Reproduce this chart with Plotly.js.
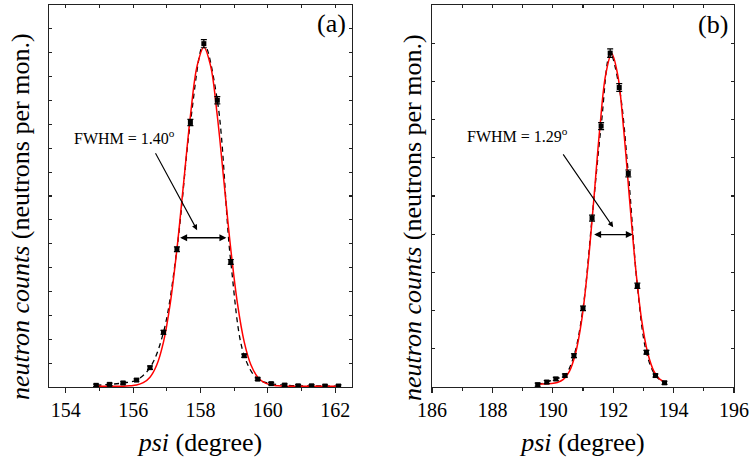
<!DOCTYPE html>
<html>
<head>
<meta charset="utf-8">
<script src="https://cdn.plot.ly/plotly-3.0.1.min.js"></script>
<style>html,body{margin:0;padding:0;background:#fff}#chart{width:750px;height:462px}</style>
</head>
<body>
<div id="chart"></div>
<script>
// Panel (a) measured points
const psiA = [154.9,155.3,155.7,156.1,156.5,156.9,157.3,157.7,158.1,158.5,158.9,159.3,159.7,160.1,160.5,160.9,161.3,161.7,162.1];
const cntA = [0.07,0.11,0.17,0.29,0.81,2.29,5.77,11.08,14.38,12.01,5.24,1.31,0.33,0.14,0.08,0.05,0.05,0.04,0.04];
const errA = [0.05,0.05,0.05,0.05,0.07,0.08,0.10,0.13,0.17,0.15,0.10,0.07,0.05,0.05,0.05,0.05,0.05,0.05,0.05];
// Panel (a) fitted curve
const fitAx = [154.9,155.1,155.3,155.5,155.7,155.9,156.1,156.3,156.5,156.7,156.9,157.1,157.3,157.5,157.7,157.9,158.1,158.3,158.5,158.7,158.9,159.1,159.3,159.5,159.7,159.9,160.1,160.3,160.5,160.7,160.9,161.1,161.3,161.5,161.7,161.9,162.1];
const fitAy = [0.03,0.03,0.03,0.03,0.03,0.05,0.08,0.18,0.41,0.92,1.88,3.48,5.77,8.56,11.35,13.45,14.23,13.45,11.35,8.56,5.77,3.48,1.88,0.92,0.41,0.18,0.08,0.05,0.03,0.03,0.03,0.03,0.03,0.03,0.03,0.03,0.03];
// Panel (b) measured points
const psiB = [189.5,189.8,190.1,190.4,190.7,191.0,191.3,191.6,191.9,192.2,192.5,192.8,193.1,193.4,193.7];
const cntB = [0.06,0.13,0.21,0.30,0.82,2.06,4.42,6.83,8.74,7.84,5.59,2.65,0.91,0.30,0.11];
const errB = [0.04,0.04,0.04,0.04,0.05,0.06,0.08,0.09,0.11,0.10,0.09,0.07,0.05,0.04,0.04];
// Panel (b) fitted curve
const fitBx = [189.55,189.75,189.95,190.15,190.35,190.55,190.75,190.95,191.15,191.35,191.55,191.75,191.95,192.15,192.35,192.55,192.75,192.95,193.15,193.35,193.55,193.75];
const fitBy = [0.08,0.08,0.09,0.12,0.20,0.41,0.87,1.71,3.06,4.83,6.71,8.17,8.73,8.17,6.71,4.83,3.06,1.71,0.87,0.41,0.20,0.12];
// Tick labels
const ticksA = [154,156,158,160,162];
const ticksB = [186,188,190,192,194,196];
const panelLabels = ['(a)','(b)'];
const fwhmLabels = ['FWHM = 1.40<sup>o</sup>','FWHM = 1.29<sup>o</sup>'];

const FONT = 'Liberation Serif';
const AX = '#222';

function dataTraces(px, py, pe, fx, fy, xa, ya) {
  return [
    {x: px, y: py, xaxis: xa, yaxis: ya, type: 'scatter', mode: 'lines',
     line: {color: 'black', width: 1.3, dash: '5px,4px', shape: 'spline'}, hoverinfo: 'skip', showlegend: false},
    {x: fx, y: fy, xaxis: xa, yaxis: ya, type: 'scatter', mode: 'lines',
     line: {color: '#ff0000', width: 1.5, shape: 'spline'}, showlegend: false},
    {x: px, y: py, xaxis: xa, yaxis: ya, type: 'scatter', mode: 'markers',
     marker: {color: 'black', size: 5, symbol: 'square'},
     error_y: {type: 'data', array: pe, visible: true, color: 'black', thickness: 1.2, width: 3},
     showlegend: false}
  ];
}

const traces = [
  ...dataTraces(psiA, cntA, errA, fitAx, fitAy, 'x', 'y'),
  ...dataTraces(psiB, cntB, errB, fitBx, fitBy, 'x2', 'y2'),
  {x: [], y: [], xaxis: 'x3', yaxis: 'y', type: 'scatter', showlegend: false},
  {x: [], y: [], xaxis: 'x4', yaxis: 'y2', type: 'scatter', showlegend: false}
];

const baseX = {
  showline: true, linecolor: AX, linewidth: 1.3, showgrid: false, zeroline: false,
  ticks: 'outside', ticklen: 5, tickwidth: 1.2, tickcolor: AX,
  tickfont: {family: FONT, size: 20, color: 'black'},
  minor: {dtick: 1, ticks: 'outside', ticklen: 3, tickwidth: 1.2, tickcolor: AX},
  title: {text: '<i>psi</i> (degree)', font: {family: FONT, size: 26, color: 'black'}, standoff: 12}
};
const topX = {
  showline: true, linecolor: AX, linewidth: 1.3, showgrid: false, zeroline: false,
  ticks: 'inside', ticklen: 3, tickwidth: 1.2, tickcolor: AX, dtick: 1, showticklabels: false, side: 'top'
};
const baseY = {
  showline: true, linecolor: AX, linewidth: 1.3, showgrid: false, zeroline: false, mirror: 'ticks',
  ticks: 'inside', ticklen: 3, tickwidth: 1.2, tickcolor: AX, dtick: 1, showticklabels: false, domain: [0, 1]
};

const layout = {
  width: 750, height: 462,
  margin: {l: 49, r: 16, t: 5, b: 75},
  paper_bgcolor: 'white', plot_bgcolor: 'white',
  showlegend: false,
  font: {family: FONT, color: 'black'},
  xaxis: Object.assign({}, baseX, {domain: [0, 0.4423], range: [153.5, 162.5], tickvals: ticksA, anchor: 'y'}),
  xaxis3: Object.assign({}, topX, {range: [153.5, 162.5], overlaying: 'x', anchor: 'y', tick0: 154}),
  yaxis: Object.assign({}, baseY, {range: [0, 16], anchor: 'x'}),
  xaxis2: Object.assign({}, baseX, {domain: [0.5591, 1.0], range: [186, 196], tickvals: ticksB, anchor: 'y2'}),
  xaxis4: Object.assign({}, topX, {range: [186, 196], overlaying: 'x2', anchor: 'y2', tick0: 186}),
  yaxis2: Object.assign({}, baseY, {range: [0, 10], anchor: 'x2'}),
  annotations: [
    {text: panelLabels[0], xref: 'x', yref: 'y', x: 161.88, y: 15.23, showarrow: false, font: {family: FONT, size: 26}},
    {text: panelLabels[1], xref: 'x2', yref: 'y2', x: 195.30, y: 9.48, showarrow: false, font: {family: FONT, size: 26}},
    {text: fwhmLabels[0], xref: 'x', yref: 'y', x: 155.73, y: 10.46, showarrow: false, font: {family: FONT, size: 16}},
    {text: fwhmLabels[1], xref: 'x2', yref: 'y2', x: 188.83, y: 6.60, showarrow: false, font: {family: FONT, size: 16}},
    {text: '', xref: 'x', yref: 'y', axref: 'x', ayref: 'y', x: 157.90, y: 6.57, ax: 156.64, ay: 9.85,
     showarrow: true, arrowhead: 2, arrowsize: 1, arrowwidth: 1.1, arrowcolor: 'black', standoff: 0},
    {text: '', xref: 'x', yref: 'y', axref: 'x', ayref: 'y', x: 158.77, y: 6.25, ax: 157.35, ay: 6.25,
     showarrow: true, arrowhead: 2, startarrowhead: 2, arrowside: 'end+start', arrowsize: 1, startarrowsize: 1, arrowwidth: 1.4, arrowcolor: 'black', standoff: 0, startstandoff: 0},
    {text: '', xref: 'x2', yref: 'y2', axref: 'x2', ayref: 'y2', x: 192.0, y: 4.18, ax: 190.31, ay: 6.13,
     showarrow: true, arrowhead: 2, arrowsize: 1, arrowwidth: 1.1, arrowcolor: 'black', standoff: 0},
    {text: '', xref: 'x2', yref: 'y2', axref: 'x2', ayref: 'y2', x: 192.65, y: 3.99, ax: 191.32, ay: 3.99,
     showarrow: true, arrowhead: 2, startarrowhead: 2, arrowside: 'end+start', arrowsize: 1, startarrowsize: 1, arrowwidth: 1.4, arrowcolor: 'black', standoff: 0, startstandoff: 0},
    {text: '<i>neutron counts</i> (neutrons per mon.)', xref: 'paper', yref: 'paper', x: -0.0423, y: 0.445, textangle: -90,
     xanchor: 'center', yanchor: 'middle', showarrow: false, font: {family: FONT, size: 26}},
    {text: '<i>neutron counts</i> (neutrons per mon.)', xref: 'paper', yref: 'paper', x: 0.5299, y: 0.445, textangle: -90,
     xanchor: 'center', yanchor: 'middle', showarrow: false, font: {family: FONT, size: 26}}
  ]
};

Plotly.newPlot('chart', traces, layout, {displayModeBar: false, staticPlot: true});
</script>
</body>
</html>
